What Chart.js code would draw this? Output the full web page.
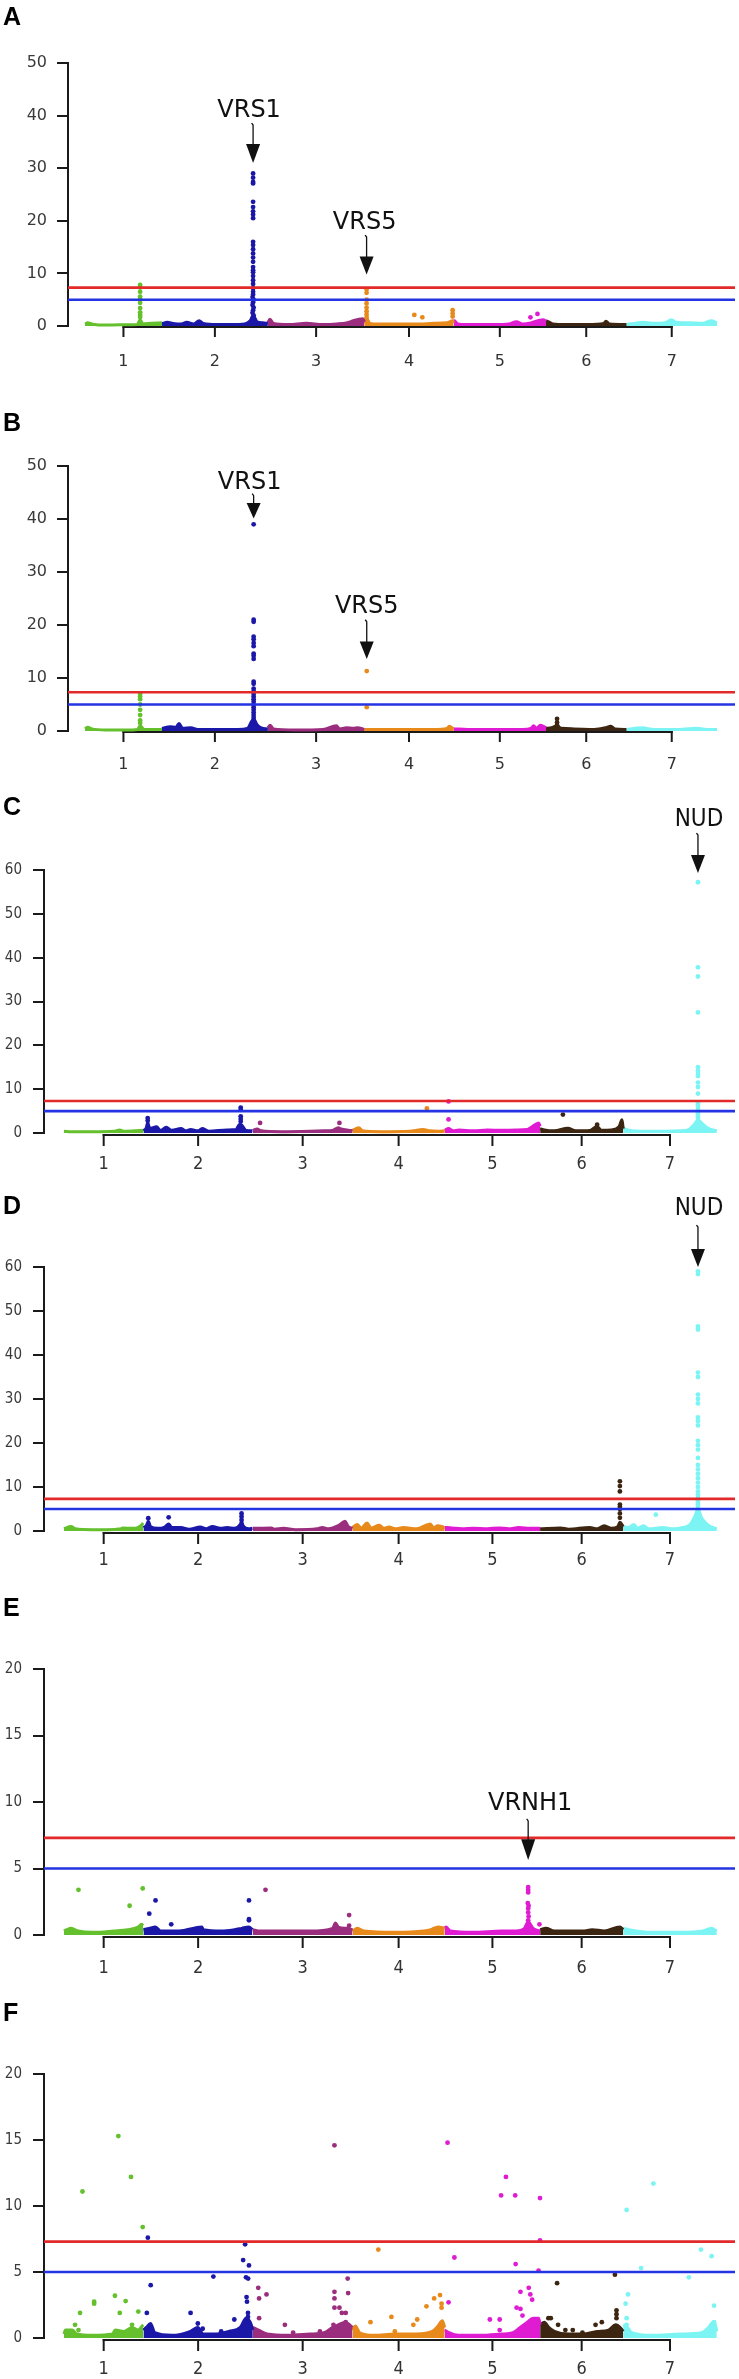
<!DOCTYPE html>
<html><head><meta charset="utf-8">
<script src="https://cdn.jsdelivr.net/npm/chart.js@4.4.1/dist/chart.umd.min.js"></script>
<style>
html,body{margin:0;padding:0;background:#fff;}
#wrap{position:relative;width:739px;height:2379px;overflow:hidden;background:#fff;}
#wrap canvas{position:absolute;left:0;}
.lbl{position:absolute;left:3px;font:bold 25px 'Liberation Sans',Arial,sans-serif;color:#000;line-height:28px;height:28px;}
</style></head><body><div id="wrap"></div>
<script>
// ---------- data ----------
const chrLabels = ['1','2','3','4','5','6','7'];
const chrLengthMb = [558, 768, 700, 647, 670, 583, 657];
const genomeWideThreshold = 7.3;
const suggestiveThreshold = 5;

// Panel A : [position within chromosome (Mb), -log10(p)]
const A_band = [
 [[0,0.4],[20,0.6],[50,0.4],[100,0.2],[200,0.2],[300,0.25],[380,0.3],[400,1.2],[420,0.4],[480,0.5],[558,0.6]],
 [[0,0.4],[40,0.7],[80,0.5],[140,0.4],[180,0.7],[230,0.4],[270,1.0],[300,0.5],[400,0.3],[500,0.3],[600,0.4],[640,1.0],[661,2.0],[690,0.8],[730,0.6],[768,0.5]],
 [[0,0.6],[15,1.3],[40,0.5],[150,0.3],[280,0.5],[400,0.3],[500,0.4],[570,0.6],[620,1.0],[660,1.3],[690,1.4],[700,0.8]],
 [[0,0.5],[16,1.5],[40,0.5],[100,0.4],[200,0.4],[300,0.4],[400,0.4],[500,0.5],[600,0.6],[640,1.0],[647,0.6]],
 [[0,0.6],[5,1.0],[30,0.4],[100,0.3],[200,0.3],[300,0.3],[400,0.4],[455,0.8],[500,0.4],[560,0.6],[610,1.0],[650,1.2],[670,0.9]],
 [[0,1.0],[20,0.8],[50,0.4],[150,0.3],[300,0.3],[420,0.5],[434,0.9],[460,0.4],[583,0.3]],
 [[0,0.3],[60,0.5],[116,0.7],[200,0.5],[280,0.6],[326,1.2],[360,0.7],[456,0.6],[550,0.5],[615,1.0],[657,0.6]]
];
const A_hits = [
 [[400,7.8],[400,7.3],[400,6.5],[400,5.6],[400,5.1],[400,4.4],[400,3.4],[400,2.6],[400,2.1],[400,1.7]],
 [[661,29.0],[661,28.2],[661,27.4],[661,27.1],[661,23.6],[661,22.6],[661,21.8],[661,21.2],[661,20.5],[661,16.0],[661,15.4],[661,14.6],[661,13.8],[661,13.0],[661,12.2],[661,11.2],[661,10.6],[661,10.2],[661,9.5],[661,8.7],[661,8.0],[661,7.2],[661,6.5],[661,6.0],[657,5.5],[665,5.0],[661,4.5],[657,4.0],[665,3.5],[661,3.0],[657,2.5],[665,2.0],[661,1.5]],
 [],
 [[16,7.0],[16,6.3],[16,5.0],[16,4.3],[16,3.5],[16,2.8],[16,2.2],[16,1.6],[362,2.1],[420,1.65],[640,3.0],[640,2.4],[640,1.8]],
 [[557,1.65],[608,2.3]],
 [],
 []
];

// Panel B
const B_band = [
 [[0,0.4],[20,0.7],[50,0.4],[150,0.2],[300,0.2],[380,0.3],[400,1.0],[430,0.3],[558,0.3]],
 [[0,0.5],[60,0.8],[100,0.7],[124,1.4],[150,0.5],[210,0.6],[260,0.3],[400,0.3],[550,0.3],[620,0.5],[650,1.8],[665,2.2],[690,1.2],[720,0.6],[768,0.4]],
 [[0,0.6],[17,1.1],[40,0.4],[200,0.2],[400,0.3],[497,1.0],[520,0.4],[570,0.6],[620,0.5],[650,0.6],[700,0.3]],
 [[0,0.3],[100,0.3],[300,0.3],[500,0.3],[600,0.5],[615,0.9],[647,0.4]],
 [[0,0.4],[100,0.3],[300,0.3],[500,0.3],[560,0.5],[580,1.0],[600,0.5],[630,1.1],[670,0.6]],
 [[0,0.5],[40,0.6],[80,1.0],[110,0.5],[200,0.4],[350,0.3],[430,0.6],[470,0.9],[500,0.4],[583,0.3]],
 [[0,0.3],[116,0.6],[200,0.3],[350,0.3],[510,0.5],[600,0.3],[657,0.3]]
];
const B_hits = [
 [[400,7.0],[400,6.5],[400,6.0],[400,5.0],[400,4.0],[400,3.0],[400,2.0],[400,1.5]],
 [[665,39.0],[665,21.0],[665,20.6],[665,17.8],[665,17.3],[665,16.6],[665,16.0],[665,14.6],[665,14.2],[665,13.6],[665,9.3],[665,8.9],[665,8.0],[665,7.5],[665,7.0],[665,6.5],[665,6.0],[665,5.5],[665,5.0],[665,4.5],[665,4.0],[665,3.5],[665,3.0],[665,2.5],[665,2.0],[665,1.5]],
 [],
 [[17,11.3],[17,4.5]],
 [],
 [[80,2.3],[80,1.6],[80,1.1]],
 []
];

// Panel C
const C_band = [
 [[0,0.4],[50,0.3],[200,0.3],[350,0.4],[392,0.7],[420,0.4],[500,0.5],[556,0.6]],
 [[0,0.5],[20,1.2],[30,2.4],[45,1.0],[92,1.4],[120,0.6],[160,1.3],[200,0.6],[263,1.0],[300,0.5],[331,0.8],[380,0.5],[416,1.0],[460,0.4],[587,0.7],[650,0.8],[675,2.0],[690,1.8],[720,0.6],[765,0.5]],
 [[0,0.6],[30,0.9],[60,0.5],[200,0.3],[400,0.4],[500,0.5],[560,0.6],[600,1.2],[620,0.9],[680,0.6],[700,0.5]],
 [[0,0.6],[44,1.2],[70,0.5],[200,0.3],[400,0.4],[495,0.8],[540,0.5],[600,0.4],[647,0.5]],
 [[0,0.6],[27,1.0],[60,0.5],[100,0.7],[200,0.5],[300,0.7],[400,0.6],[500,0.7],[580,0.8],[630,1.8],[660,2.3],[670,1.5]],
 [[0,1.0],[30,0.7],[100,0.5],[195,1.1],[250,0.5],[350,0.6],[400,1.5],[430,0.6],[500,0.7],[555,1.5],[575,3.0],[583,1.0]],
 [[0,1.2],[20,0.8],[60,0.5],[150,0.4],[300,0.4],[400,0.5],[460,0.8],[500,2.0],[525,3.0],[560,2.0],[600,1.0],[657,0.5]]
];
const C_hits = [
 [],
 [[30,3.4],[30,2.8],[683,5.8],[683,5.3],[683,3.8],[683,3.2],[683,2.6]],
 [[51,2.3],[608,2.3]],
 [[522,5.6]],
 [[27,7.2],[27,3.1]],
 [[160,4.2],[400,1.9]],
 [[525,57.2],[525,37.8],[525,35.7],[525,27.5],[525,15.0],[525,14.2],[525,13.5],[525,13.0],[525,11.5],[525,10.5],[525,9.0],[525,7.0],[525,6.5],[525,6.0],[525,5.5],[525,5.0],[525,4.5],[525,4.0],[525,3.5]]
];

// Panel D
const D_band = [
 [[0,0.5],[50,1.0],[80,0.5],[200,0.3],[300,0.3],[400,0.5],[410,0.7],[500,0.6],[540,1.2],[556,1.8]],
 [[0,0.8],[20,1.2],[34,2.2],[50,1.0],[100,0.6],[150,0.9],[177,1.6],[200,0.8],[263,0.8],[320,0.4],[399,0.9],[440,0.5],[485,1.0],[540,0.6],[587,0.8],[640,0.6],[680,1.5],[689,2.2],[700,1.2],[740,0.5],[765,0.6]],
 [[0,0.6],[130,0.7],[150,0.4],[215,0.6],[300,0.3],[450,0.5],[488,0.8],[530,0.5],[600,1.2],[648,2.2],[670,1.0],[700,0.6]],
 [[0,0.8],[34,1.5],[60,0.6],[102,1.8],[130,0.7],[188,1.3],[220,0.6],[256,0.9],[300,0.5],[358,0.8],[450,0.5],[546,1.6],[570,0.7],[597,1.2],[647,0.8]],
 [[0,0.8],[50,0.7],[120,0.5],[200,0.6],[300,0.5],[380,0.7],[450,0.5],[520,0.8],[600,0.6],[670,0.6]],
 [[0,0.5],[143,0.7],[200,0.4],[348,0.8],[400,0.5],[450,1.2],[500,0.6],[545,1.0],[560,2.0],[583,1.0]],
 [[0,1.0],[40,0.8],[75,1.5],[100,0.6],[143,1.2],[180,0.5],[280,0.8],[350,0.5],[420,0.8],[470,1.5],[505,3.5],[525,5.0],[550,3.0],[590,1.5],[630,0.8],[657,0.5]]
];
const D_hits = [
 [],
 [[34,2.9],[177,3.1],[689,4.0],[689,3.3],[689,2.5]],
 [],
 [],
 [],
 [[560,11.3],[560,10.2],[560,9.0],[560,6.0],[560,5.5],[560,5.0],[560,4.0],[560,3.0]],
 [[229,3.7],[525,59.0],[525,58.4],[525,46.5],[525,45.8],[525,36.0],[525,35.0],[525,31.0],[525,30.0],[525,29.0],[525,25.8],[525,25.0],[525,24.0],[525,20.5],[525,19.5],[525,18.5],[525,16.6],[525,15.0],[525,14.0],[525,13.0],[525,12.0],[525,11.0],[525,10.0],[525,9.0],[525,8.2],[525,7.5],[525,7.0],[525,6.5],[525,6.0],[525,5.5]]
];

// Panel E
const E_band = [
 [[0,0.3],[20,0.4],[50,0.5],[100,0.3],[200,0.2],[350,0.3],[450,0.4],[520,0.6],[545,0.8],[556,0.7]],
 [[0,0.4],[40,0.5],[85,0.6],[120,0.3],[250,0.3],[410,0.6],[420,0.4],[550,0.3],[640,0.4],[690,0.5],[740,0.6],[765,0.4]],
 [[0,0.4],[40,0.3],[200,0.3],[400,0.3],[560,0.5],[580,0.9],[600,0.6],[660,0.5],[700,0.4]],
 [[0,0.3],[34,0.5],[80,0.3],[300,0.2],[500,0.3],[550,0.4],[600,0.6],[647,0.5]],
 [[0,0.5],[10,0.6],[40,0.3],[200,0.2],[400,0.3],[500,0.3],[560,0.5],[586,1.0],[620,0.5],[670,0.3]],
 [[0,0.4],[40,0.5],[100,0.3],[300,0.3],[365,0.4],[450,0.3],[560,0.6],[583,0.4]],
 [[0,0.5],[40,0.4],[200,0.2],[400,0.2],[560,0.3],[620,0.5],[657,0.3]]
];
const E_hits = [
 [[102,3.4],[461,2.2],[553,3.5]],
 [[41,1.6],[85,2.6],[195,0.8],[741,2.6],[741,1.2],[741,1.1]],
 [[89,3.4],[676,1.5],[676,0.7]],
 [],
 [[586,3.6],[586,3.4],[586,3.2],[583,2.4],[589,2.2],[586,2.0],[586,1.7],[589,1.4],[586,1.1],[590,0.8],[665,0.8]],
 [],
 []
];

// Panel F
const F_band = [
 [[0,0.3],[10,0.6],[60,0.6],[90,0.3],[200,0.2],[340,0.3],[360,0.6],[420,0.5],[480,0.8],[520,0.6],[556,1.0]],
 [[0,0.6],[20,0.8],[50,1.1],[80,0.4],[200,0.2],[330,0.5],[382,0.8],[420,0.3],[500,0.3],[600,0.5],[680,0.8],[720,1.5],[750,1.2],[768,0.6]],
 [[0,0.8],[40,0.6],[100,0.3],[250,0.2],[400,0.3],[500,0.4],[560,0.8],[600,1.0],[650,1.2],[700,0.8]],
 [[0,0.6],[20,0.9],[50,0.4],[150,0.2],[300,0.3],[450,0.3],[560,0.5],[600,0.9],[630,1.3],[647,0.8]],
 [[0,0.6],[30,0.4],[100,0.2],[250,0.2],[400,0.3],[480,0.4],[530,0.8],[580,1.2],[620,1.5],[660,1.5],[670,1.0]],
 [[0,1.0],[30,1.2],[60,0.8],[100,0.5],[200,0.3],[300,0.3],[400,0.5],[480,0.6],[530,1.0],[570,0.7],[583,0.5]],
 [[0,1.0],[30,0.8],[60,0.4],[200,0.2],[400,0.3],[550,0.4],[600,0.8],[630,1.2],[650,0.9],[657,0.5]]
];
const F_hits = [
 [[78,1.0],[102,0.6],[113,1.9],[130,11.1],[212,2.75],[212,2.6],[358,3.2],[382,15.3],[392,1.9],[433,2.8],[471,12.2],[478,1.0],[522,2.0],[553,8.4]],
 [[24,1.9],[31,7.6],[51,4.0],[331,1.9],[382,1.1],[416,0.7],[491,4.65],[546,0.5],[638,1.4],[700,5.9],[714,7.1],[720,4.6],[724,3.1],[727,2.75],[734,1.9],[734,1.6],[734,1.2],[735,4.5],[741,5.5],[748,1.0]],
 [[38,3.8],[44,3.0],[44,1.5],[96,3.3],[225,1.0],[283,0.4],[471,0.5],[566,1.0],[573,14.6],[573,3.5],[573,3.0],[573,2.3],[608,2.3],[625,1.9],[652,1.2],[652,1.9],[666,4.5],[669,3.4]],
 [[126,1.2],[181,6.7],[273,1.6],[297,0.5],[427,1.0],[454,1.4],[519,2.4],[573,3.0],[614,3.25],[625,2.6],[625,2.3]],
 [[20,14.8],[27,2.7],[68,6.1],[317,1.4],[386,1.4],[386,0.6],[396,10.8],[430,12.2],[495,10.8],[498,5.6],[505,2.3],[532,3.5],[532,2.2],[546,1.7],[590,3.8],[601,3.3],[614,2.9],[635,1.4],[659,5.1],[669,10.6],[669,7.4]],
 [[58,1.5],[75,1.5],[119,4.15],[126,1.0],[177,0.6],[229,0.6],[297,0.4],[389,1.0],[433,1.2],[525,4.8],[536,2.1],[536,1.8],[536,1.5]],
 [[17,2.6],[24,9.7],[24,1.5],[24,1.0],[34,3.3],[126,5.3],[212,11.7],[461,4.6],[546,6.7],[621,6.2],[638,2.45],[638,1.2],[638,1.0]]
];

// ---------- styles / layout ----------
const chrColors = ['#64c02c','#1b18a8','#9b2d7f','#e8891c','#e01cd2','#3c2612','#7cf4f4'];
const thresholdColors = {genome:'rgb(226,42,42)', suggestive:'rgb(36,52,226)'};
const fontAB = "'DejaVu Sans', Verdana, sans-serif";
const fontCF = "'Liberation Sans Narrow', 'DejaVu Sans Condensed', 'Liberation Sans', Arial, sans-serif";
const fontGene = "'DejaVu Sans', Verdana, sans-serif";

const notesA = [
  {text:'VRS1', chr:1, pos:661, ty:40.9, dx:-4, lt:38.4, ht:34.6, tip:31.0, font:fontGene},
  {text:'VRS5', chr:3, pos:16, ty:19.6, dx:-2, lt:17.1, ht:13.2, tip:9.8, font:fontGene}
];
const notesB = [
  {text:'VRS1', chr:1, pos:665, ty:46.9, dx:-4, lt:44.6, ht:43.0, tip:40.1, font:fontGene},
  {text:'VRS5', chr:3, pos:17, ty:23.4, dx:0, lt:20.8, ht:16.9, tip:13.6, font:fontGene}
];
const notesC = [{text:'NUD', chr:6, pos:525, ty:71.4, dx:1, lt:68.2, ht:63.4, tip:59.3, font:fontCF}];
const notesD = [{text:'NUD', chr:6, pos:525, ty:73.2, dx:1, lt:69.3, ht:64.1, tip:60.0, font:fontCF}];
const notesE = [{text:'VRNH1', chr:4, pos:586, ty:9.85, dx:2, lt:8.65, ht:7.2, tip:5.64, font:fontGene}];

const panels = [
  {id:'A', top:0,    H:395, yTop:63,   y0:326,  left:68, right:736, x0:85, mbPx:7.24, yMax:50, step:10, letterY:16,   band:A_band, hits:A_hits, notes:notesA, st:'ab', xPad:17},
  {id:'B', top:395,  H:400, yTop:466,  y0:731,  left:68, right:736, x0:85, mbPx:7.24, yMax:50, step:10, letterY:422,  band:B_band, hits:B_hits, notes:notesB, st:'ab', xPad:15},
  {id:'C', top:795,  H:395, yTop:870,  y0:1133, left:44, right:737, x0:64, mbPx:7.0,  yMax:60, step:10, letterY:806,  band:C_band, hits:C_hits, notes:notesC, st:'cf', xPad:9},
  {id:'D', top:1190, H:400, yTop:1267, y0:1531, left:44, right:737, x0:64, mbPx:7.0,  yMax:60, step:10, letterY:1205, band:D_band, hits:D_hits, notes:notesD, st:'cf', xPad:7},
  {id:'E', top:1590, H:400, yTop:1669, y0:1935, left:44, right:737, x0:64, mbPx:7.0,  yMax:20, step:5,  letterY:1607, band:E_band, hits:E_hits, notes:notesE, st:'cf', xPad:11},
  {id:'F', top:1990, H:389, yTop:2074, y0:2338, left:44, right:737, x0:64, mbPx:7.0,  yMax:20, step:5,  letterY:2012, band:F_band, hits:F_hits, notes:[],     st:'cf', xPad:9}
];

// cumulative genome positions
const chrStart = [];
chrLengthMb.reduce((acc, len, i) => { chrStart[i] = acc; return acc + len; }, 0);
const chrMid = chrLengthMb.map((len, i) => chrStart[i] + len / 2);

const wrap = document.getElementById('wrap');

panels.forEach(p => {
  const xMin = -(p.x0 - p.left) * p.mbPx;
  const xMax = (p.right - p.x0) * p.mbPx;
  const canvas = document.createElement('canvas');
  canvas.width = 739; canvas.height = p.H;
  canvas.style.top = p.top + 'px';
  wrap.appendChild(canvas);

  const lbl = document.createElement('div');
  lbl.className = 'lbl';
  lbl.textContent = p.id;
  lbl.style.top = (p.letterY - 14) + 'px';
  wrap.appendChild(lbl);

  const datasets = [];
  datasets.push({type:'line', data:[{x:xMin,y:genomeWideThreshold},{x:xMax,y:genomeWideThreshold}], borderColor:thresholdColors.genome, borderWidth:2.6, pointRadius:0, fill:false, order:0, clip:false});
  datasets.push({type:'line', data:[{x:xMin,y:suggestiveThreshold},{x:xMax,y:suggestiveThreshold}], borderColor:thresholdColors.suggestive, borderWidth:2.6, pointRadius:0, fill:false, order:0, clip:false});
  p.hits.forEach((list, i) => {
    if (!list.length) return;
    datasets.push({type:'scatter', data:list.map(d => ({x: chrStart[i] + d[0], y: d[1]})),
      backgroundColor:chrColors[i], borderColor:chrColors[i], pointRadius:2.4, pointBorderWidth:0, order:1, clip:false});
  });
  p.band.forEach((list, i) => {
    datasets.push({type:'line', data:list.map(d => ({x: chrStart[i] + d[0], y: d[1]})),
      borderColor:chrColors[i], backgroundColor:chrColors[i], borderWidth:3, pointRadius:0,
      cubicInterpolationMode:'monotone', fill:'origin', order:2, clip:false});
  });

  const tickFontY = p.st === 'ab' ? {family:fontAB, size:16} : {family:fontCF, size:15};
  const tickFontX = p.st === 'ab' ? {family:fontAB, size:16} : {family:fontCF, size:18};
  const axisDrop = p.st === 'ab' ? 1 : 2;

  const decor = {
    id:'decor_' + p.id,
    beforeDatasetsDraw(chart) {
      const ctx = chart.ctx, xs = chart.scales.x, a = chart.chartArea;
      ctx.save();
      ctx.strokeStyle = '#1a1a1a'; ctx.lineWidth = 2;
      ctx.beginPath();
      ctx.moveTo(xs.getPixelForValue(chrMid[0]) - 1, a.bottom + axisDrop);
      ctx.lineTo(xs.getPixelForValue(chrMid[6]) + 1, a.bottom + axisDrop);
      ctx.stroke();
      // tick marks hanging from the axis line
      chrMid.forEach(v => {
        const x = xs.getPixelForValue(v);
        ctx.beginPath();
        ctx.moveTo(x, a.bottom + axisDrop - 1);
        ctx.lineTo(x, a.bottom + axisDrop + (p.st === 'ab' ? 10 : 11));
        ctx.stroke();
      });
      ctx.restore();
    },
    afterDatasetsDraw(chart) {
      const ctx = chart.ctx, xs = chart.scales.x, ys = chart.scales.y;
      ctx.save();
      p.notes.forEach(n => {
        const x = xs.getPixelForValue(chrStart[n.chr] + n.pos);
        ctx.fillStyle = '#111';
        ctx.font = '24px ' + n.font;
        ctx.textAlign = 'center';
        ctx.textBaseline = 'middle';
        ctx.fillText(n.text, x + n.dx, ys.getPixelForValue(n.ty));
        ctx.strokeStyle = '#111'; ctx.lineWidth = 1.3;
        ctx.beginPath();
        ctx.moveTo(x - 1.5, ys.getPixelForValue(n.lt) - 1);
        ctx.lineTo(x, ys.getPixelForValue(n.lt) + 1);
        ctx.lineTo(x, ys.getPixelForValue(n.ht) + 1);
        ctx.stroke();
        const hy = ys.getPixelForValue(n.ht), ty = ys.getPixelForValue(n.tip);
        ctx.beginPath();
        ctx.moveTo(x - 7, hy);
        ctx.lineTo(x + 7, hy);
        ctx.lineTo(x, ty);
        ctx.closePath();
        ctx.fill();
      });
      ctx.restore();
    }
  };

  new Chart(canvas, {
    type:'scatter',
    data:{datasets},
    options:{
      responsive:false, animation:false, devicePixelRatio:1, events:[],
      layout:{padding:{top:p.yTop - p.top, left:0, right:739 - p.right, bottom:0}},
      plugins:{legend:{display:false}, tooltip:{enabled:false}},
      scales:{
        x:{type:'linear', min:xMin, max:xMax,
          afterBuildTicks:s => { s.ticks = chrMid.map(v => ({value:v})); },
          afterFit:s => { s.height = p.H - (p.y0 - p.top); },
          ticks:{callback:(v, i) => chrLabels[i], font:tickFontX, color:'#333', padding:p.xPad + (p.st === 'ab' ? 9 : 12), maxRotation:0, autoSkip:false},
          grid:{display:false, drawTicks:false},
          border:{display:false}},
        y:{type:'linear', min:0, max:p.yMax,
          afterFit:s => { s.width = p.left; },
          ticks:{stepSize:p.step, font:tickFontY, color:'#3a3a3a', padding:p.st === 'ab' ? 10 : 11},
          grid:{display:true, drawOnChartArea:false, drawTicks:true, tickLength:11, color:'#1a1a1a', lineWidth:2},
          border:{display:true, color:'#1a1a1a', width:2}}
      }
    },
    plugins:[decor]
  });
});
</script></body></html>
